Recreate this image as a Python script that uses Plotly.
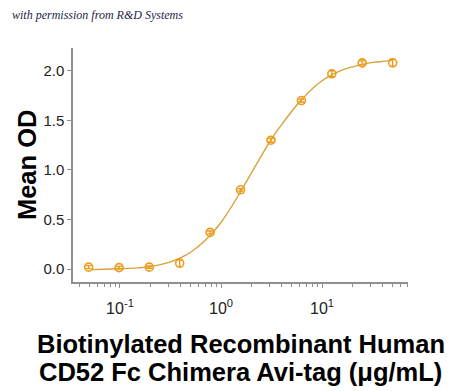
import plotly.graph_objects as go

# Data points (concentration in µg/mL, mean OD, error)
conc = [0.049, 0.098, 0.195, 0.39, 0.78, 1.56, 3.125, 6.25, 12.5, 25, 50]
mean_od = [0.02, 0.015, 0.02, 0.06, 0.37, 0.80, 1.30, 1.70, 1.97, 2.08, 2.08]
od_err = [0.015, 0.012, 0.012, 0.035, 0.015, 0.012, 0.02, 0.015, 0.03, 0.02, 0.035]

# Fitted curve
curve_x = [0.052, 0.07, 0.1, 0.15, 0.2, 0.3, 0.4, 0.5, 0.7, 1.0, 1.5, 2.0, 2.5,
           3.2, 4.0, 5.0, 6.3, 8.0, 10, 13, 16, 20, 25, 32, 40, 50]
curve_y = [-0.005, -0.002, 0.003, 0.012, 0.025, 0.065, 0.115, 0.17, 0.29, 0.47,
           0.75, 0.97, 1.14, 1.32, 1.46, 1.59, 1.71, 1.82, 1.90, 1.97, 2.01,
           2.04, 2.065, 2.085, 2.095, 2.105]

x_tickvals = [0.1, 1, 10]
x_ticktext = ["10<sup>-1</sup>", "10<sup>0</sup>", "10<sup>1</sup>"]
y_tickvals = [0.0, 0.5, 1.0, 1.5, 2.0]
y_ticktext = ["0.0", "0.5", "1.0", "1.5", "2.0"]

line_color = "#D9A13A"
marker_color = "#EE9B1C"
axis_color = "#8f8f8f"
tick_font = dict(family="Liberation Sans Narrow, Liberation Sans, Arial, sans-serif",
                 size=15, color="#222222")
xtick_font = dict(family="Liberation Sans Narrow, Liberation Sans, Arial, sans-serif",
                  size=16, color="#222222")

fig = go.Figure()
fig.add_trace(go.Scatter(
    x=curve_x, y=curve_y, mode="lines", line=dict(color=line_color, width=1.4, shape="spline"),
    hoverinfo="skip", showlegend=False))
fig.add_trace(go.Scatter(
    x=conc, y=mean_od, mode="markers",
    marker=dict(symbol="circle-open", size=8, color=marker_color, line=dict(width=1.6, color=marker_color)),
    error_y=dict(type="data", array=od_err, visible=True, color=marker_color, thickness=1.4, width=3),
    showlegend=False))

fig.update_layout(
    width=450, height=391,
    margin=dict(l=73, r=42, t=48, b=109),
    paper_bgcolor="white", plot_bgcolor="white",
    xaxis=dict(type="log", range=[-1.465, 1.851], showgrid=False, zeroline=False,
               showline=True, linecolor=axis_color, linewidth=1.5,
               ticks="outside", ticklen=4, tickcolor=axis_color, tickwidth=1,
               ticklabelstandoff=7,
               tickvals=x_tickvals, ticktext=x_ticktext, tickfont=xtick_font,
               minor=dict(ticks="outside", ticklen=3, tickcolor=axis_color, tickwidth=1, dtick="D1", showgrid=False)),
    yaxis=dict(range=[-0.13, 2.23], showgrid=False, zeroline=False,
               showline=True, linecolor=axis_color, linewidth=1.5,
               ticks="outside", ticklen=4, tickcolor=axis_color, tickwidth=1,
               tickvals=y_tickvals, ticktext=y_ticktext, tickfont=tick_font),
    font=dict(family="Liberation Sans, Arial, sans-serif"),
)

title_font = dict(family="Liberation Sans, Arial, sans-serif", size=25.5, color="black", weight="bold")
fig.add_annotation(text="Mean OD", xref="paper", yref="paper", x=-0.137, y=0.5,
                   xanchor="center", yanchor="middle", textangle=-90, showarrow=False, font=title_font)
fig.add_annotation(text="Biotinylated Recombinant Human", xref="paper", yref="paper",
                   x=0.5, y=-0.265, xanchor="center", yanchor="middle", showarrow=False, font=title_font)
fig.add_annotation(text="CD52 Fc Chimera Avi-tag (μg/mL)", xref="paper", yref="paper",
                   x=0.5, y=-0.385, xanchor="center", yanchor="middle", showarrow=False, font=title_font)
fig.add_annotation(text="with permission from R&amp;D Systems", xref="paper", yref="paper",
                   x=-0.188, y=1.141, xanchor="left", yanchor="middle", showarrow=False,
                   font=dict(family="Liberation Serif, DejaVu Serif, serif", size=12, color="#1e1e46", style="italic"))

fig.write_html("out.html", config={"displayModeBar": False},
               post_script="document.body.style.margin='0';document.body.style.padding='0';")
